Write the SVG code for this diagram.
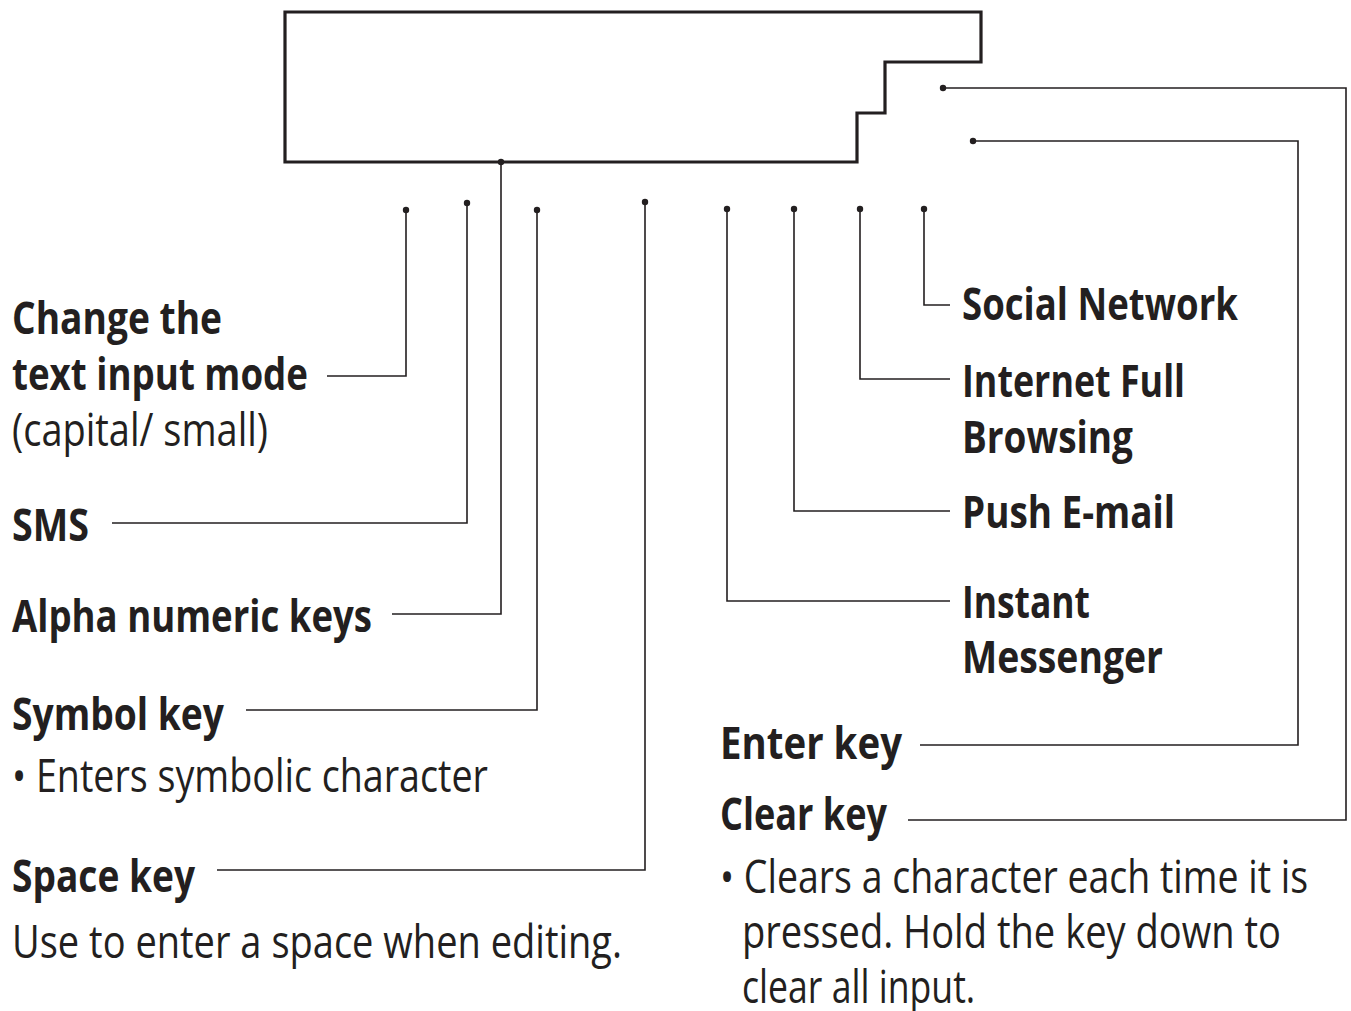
<svg xmlns="http://www.w3.org/2000/svg" width="1351" height="1011" viewBox="0 0 1351 1011">
<style>
.b{font-family:"Open Sans","Noto Sans",sans-serif;font-weight:700;font-size:45px;fill:#231f20}
.r{font-family:"Open Sans","Noto Sans",sans-serif;font-weight:400;font-size:45px;fill:#231f20}
.c{fill:none;stroke:#231f20;stroke-width:1.6}
.d{fill:#231f20}
</style>
<rect width="1351" height="1011" fill="#fff"/>
<g id="device">
<path d="M285,12 H981 V62 H885 V113 H857 V162 H285 Z" fill="none" stroke="#231f20" stroke-width="3.2"/>
</g>
<g id="connectors">
<path class="c" d="M406,210 V376 H327"/>
<path class="c" d="M467,203 V523 H112"/>
<path class="c" d="M501,162 V614 H392"/>
<path class="c" d="M537,210 V710 H246"/>
<path class="c" d="M645,202 V870 H217"/>
<path class="c" d="M727,209 V601 H950"/>
<path class="c" d="M794,209 V511 H950"/>
<path class="c" d="M860,209 V379 H950"/>
<path class="c" d="M924,209 V305 H950"/>
<path class="c" d="M943,88 H1346 V820 H908"/>
<path class="c" d="M973,141 H1298 V745 H920"/>
<circle class="d" cx="406" cy="210" r="3.2"/>
<circle class="d" cx="467" cy="203" r="3.2"/>
<circle class="d" cx="501" cy="162" r="3.2"/>
<circle class="d" cx="537" cy="210" r="3.2"/>
<circle class="d" cx="645" cy="202" r="3.2"/>
<circle class="d" cx="727" cy="209" r="3.2"/>
<circle class="d" cx="794" cy="209" r="3.2"/>
<circle class="d" cx="860" cy="209" r="3.2"/>
<circle class="d" cx="924" cy="209" r="3.2"/>
<circle class="d" cx="943" cy="88" r="3.2"/>
<circle class="d" cx="973" cy="141" r="3.2"/>
</g>
<g id="label-text-input-mode">
<text class="b" x="12" y="334" textLength="210" lengthAdjust="spacingAndGlyphs">Change the</text>
<text class="b" x="12" y="390" textLength="296" lengthAdjust="spacingAndGlyphs">text input mode</text>
<text class="r" x="12" y="446" textLength="256" lengthAdjust="spacingAndGlyphs">(capital/ small)</text>
</g>
<g id="label-sms">
<text class="b" x="12" y="541" textLength="77" lengthAdjust="spacingAndGlyphs">SMS</text>
</g>
<g id="label-alpha">
<text class="b" x="12" y="632" textLength="360" lengthAdjust="spacingAndGlyphs">Alpha numeric keys</text>
</g>
<g id="label-symbol">
<text class="b" x="12" y="730" textLength="212" lengthAdjust="spacingAndGlyphs">Symbol key</text>
<text class="r" x="12" y="792" textLength="476" lengthAdjust="spacingAndGlyphs">• Enters symbolic character</text>
</g>
<g id="label-space">
<text class="b" x="12" y="892" textLength="183" lengthAdjust="spacingAndGlyphs">Space key</text>
<text class="r" x="12" y="958" textLength="610" lengthAdjust="spacingAndGlyphs">Use to enter a space when editing.</text>
</g>
<g id="label-social">
<text class="b" x="962" y="320" textLength="276" lengthAdjust="spacingAndGlyphs">Social Network</text>
</g>
<g id="label-internet">
<text class="b" x="962" y="397" textLength="223" lengthAdjust="spacingAndGlyphs">Internet Full</text>
<text class="b" x="962" y="453" textLength="171" lengthAdjust="spacingAndGlyphs">Browsing</text>
</g>
<g id="label-push">
<text class="b" x="962" y="528" textLength="213" lengthAdjust="spacingAndGlyphs">Push E-mail</text>
</g>
<g id="label-instant">
<text class="b" x="962" y="618" textLength="128" lengthAdjust="spacingAndGlyphs">Instant</text>
<text class="b" x="962" y="673" textLength="201" lengthAdjust="spacingAndGlyphs">Messenger</text>
</g>
<g id="label-enter">
<text class="b" x="720" y="759" textLength="182" lengthAdjust="spacingAndGlyphs">Enter key</text>
</g>
<g id="label-clear">
<text class="b" x="720" y="830" textLength="167" lengthAdjust="spacingAndGlyphs">Clear key</text>
<g transform="translate(720,0) scale(0.78,1)">
<text class="r" x="0" y="893" textLength="754" lengthAdjust="spacingAndGlyphs">• Clears a character each time it is</text>
<text class="r" x="28.2" y="948" textLength="691" lengthAdjust="spacingAndGlyphs">pressed. Hold the key down to</text>
<text class="r" x="28.2" y="1003" textLength="299" lengthAdjust="spacingAndGlyphs">clear all input.</text>
</g>
</g>
</svg>
